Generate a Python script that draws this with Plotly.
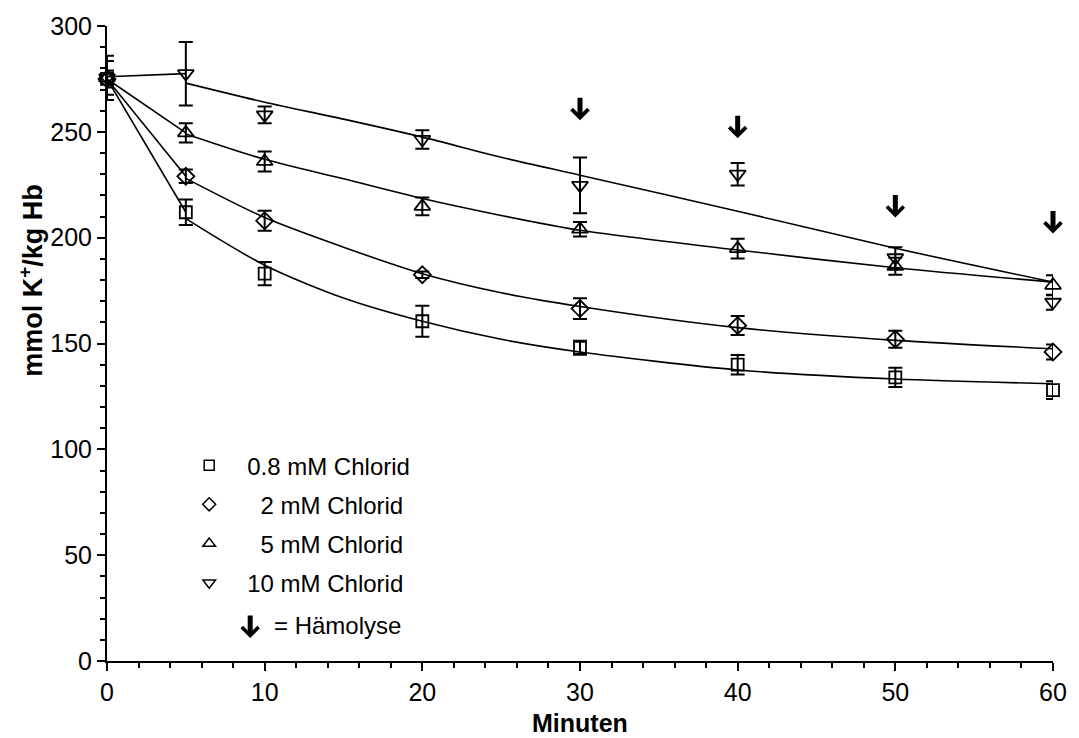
import plotly.graph_objects as go

# ---------------- data ----------------
times = [0, 5, 10, 20, 30, 40, 50, 60]

names = ["0.8 mM Chlorid", "\u00a0\u00a02 mM Chlorid", "\u00a0\u00a05 mM Chlorid", "10 mM Chlorid"]
symbols = ["square-open", "diamond-open", "triangle-up-open", "triangle-down-open"]

v08 = [275, 212, 183, 160.5, 148, 140, 134, 128]
e08 = [4, 6, 5.5, 7.3, 3.3, 4.6, 4.5, 4.2]

v2 = [275, 229, 208, 182.5, 166.5, 158.5, 152, 146]
e2 = [3, 3.2, 4.7, 1.5, 4.9, 4.5, 4, 3.5]

v5 = [275.5, 249.5, 236, 214.8, 204, 194.8, 186.5, 177.5]
e5 = [8, 4.5, 4.7, 4.2, 3.4, 4.7, 4, 4.7]

v10 = [275.5, 277.5, 258, 246.4, 224.7, 230, 190.5, 169.5]
e10 = [10.5, 15, 4, 4.4, 13.2, 5.3, 5, 3.5]

# fitted curves: straight piece 0->5 min, smooth fit 5->60 min
seg_t = [0, 5]
seg08 = [275, 212]
seg2 = [275, 229]
seg5 = [275, 249.5]
seg10 = [276, 277.5]

curve_t = [5, 10, 15, 20, 25, 30, 40, 50, 60]
c08 = [209, 187, 171.5, 160.5, 152, 146, 137.5, 133.2, 131]
c2 = [228, 209.5, 195.5, 183, 174, 167.5, 157.5, 151.5, 147.5]
c5 = [249, 237, 227.8, 218.5, 210.5, 203.5, 194.2, 185.8, 179]
c10 = [273, 264, 256, 247.5, 238, 229.5, 212.5, 195, 179]

# hemolysis arrows (tip positions)
hemo_t = [30, 40, 50, 60]
hemo_y = [255.5, 247, 209.5, 202]

values = [v08, v2, v5, v10]
errors = [e08, e2, e5, e10]
segs = [seg08, seg2, seg5, seg10]
curves = [c08, c2, c5, c10]
msizes = [12, 13, 14, 14]
legend_sizes = [10, 10, 11, 11]

FONT = "Liberation Sans, Arial, sans-serif"

fig = go.Figure()

# curves
for sg, cv in zip(segs, curves):
    fig.add_trace(go.Scatter(
        x=seg_t + [None] + curve_t, y=sg + [None] + cv,
        mode="lines", line=dict(color="black", width=1.6, shape="spline", smoothing=0.8),
        showlegend=False, hoverinfo="skip", cliponaxis=False))

# markers with error bars
for i, (vals, errs) in enumerate(zip(values, errors)):
    fig.add_trace(go.Scatter(
        x=times, y=vals, mode="markers", name=names[i],
        marker=dict(symbol=symbols[i], size=msizes[i], color="black",
                    line=dict(color="black", width=1.8)),
        error_y=dict(type="data", array=errs, visible=True, color="black",
                     thickness=2, width=7),
        showlegend=False, cliponaxis=False))

# legend entries (legend only, smaller symbols)
for i in range(4):
    fig.add_trace(go.Scatter(
        x=[None], y=[None], mode="markers", name=names[i],
        marker=dict(symbol=symbols[i], size=legend_sizes[i], color="black",
                    line=dict(color="black", width=1.5)),
        legendgroup=f"g{i}", showlegend=True))

# hemolysis arrows
ARROW = dict(showarrow=True, ax=0, ay=-24, arrowhead=4, arrowsize=0.65, arrowwidth=5,
             arrowcolor="black", text="")
for t, y in zip(hemo_t, hemo_y):
    fig.add_annotation(x=t, y=y, xref="x", yref="y", **ARROW)

# hemolysis key
fig.add_annotation(x=(252 - 107) / 958, y=(661 - 638) / 638, xref="paper", yref="paper",
                   **ARROW)
fig.add_annotation(x=(274 - 107) / 958, y=(661 - 625) / 638, xref="paper", yref="paper",
                   text="= Hämolyse", showarrow=False, xanchor="left", yanchor="middle",
                   font=dict(family=FONT, size=24, color="black"))

# axis titles
fig.add_annotation(x=(30 - 107) / 958, y=(661 - 278) / 638, xref="paper", yref="paper",
                   text="<b>mmol K<sup>+</sup>/kg Hb</b>", textangle=-90, showarrow=False,
                   xanchor="center", yanchor="middle",
                   font=dict(family=FONT, size=27, color="black"))
fig.add_annotation(x=0.5, y=(661 - 723) / 638, xref="paper", yref="paper",
                   text="<b>Minuten</b>", showarrow=False, xanchor="center", yanchor="middle",
                   font=dict(family=FONT, size=25, color="black"))

axis_common = dict(showgrid=False, zeroline=False, showline=True, linecolor="black",
                   linewidth=2, ticks="outside", tickwidth=2, ticklen=8, tickcolor="black",
                   tickfont=dict(family=FONT, size=25, color="black"))

fig.update_layout(
    width=1079, height=738,
    margin=dict(l=107, r=14, t=23, b=77),
    paper_bgcolor="white", plot_bgcolor="white",
    font=dict(family=FONT, size=24, color="black"),
    xaxis=dict(range=[0, 60], tickmode="array", tickvals=[0, 10, 20, 30, 40, 50, 60],
               minor=dict(dtick=2, ticks="outside", ticklen=5, tickwidth=2, tickcolor="black"),
               **axis_common),
    yaxis=dict(range=[0, 300], tickmode="array", tickvals=[0, 50, 100, 150, 200, 250, 300],
               minor=dict(dtick=10, ticks="outside", ticklen=5, tickwidth=2, tickcolor="black"),
               **axis_common),
    legend=dict(x=(172 - 107) / 958, y=(661 - 442) / 638, xanchor="left", yanchor="top",
                bgcolor="rgba(0,0,0,0)", font=dict(family=FONT, size=24, color="black"),
                tracegroupgap=5, itemwidth=66),
    showlegend=True,
)

fig.write_html("out.html")
